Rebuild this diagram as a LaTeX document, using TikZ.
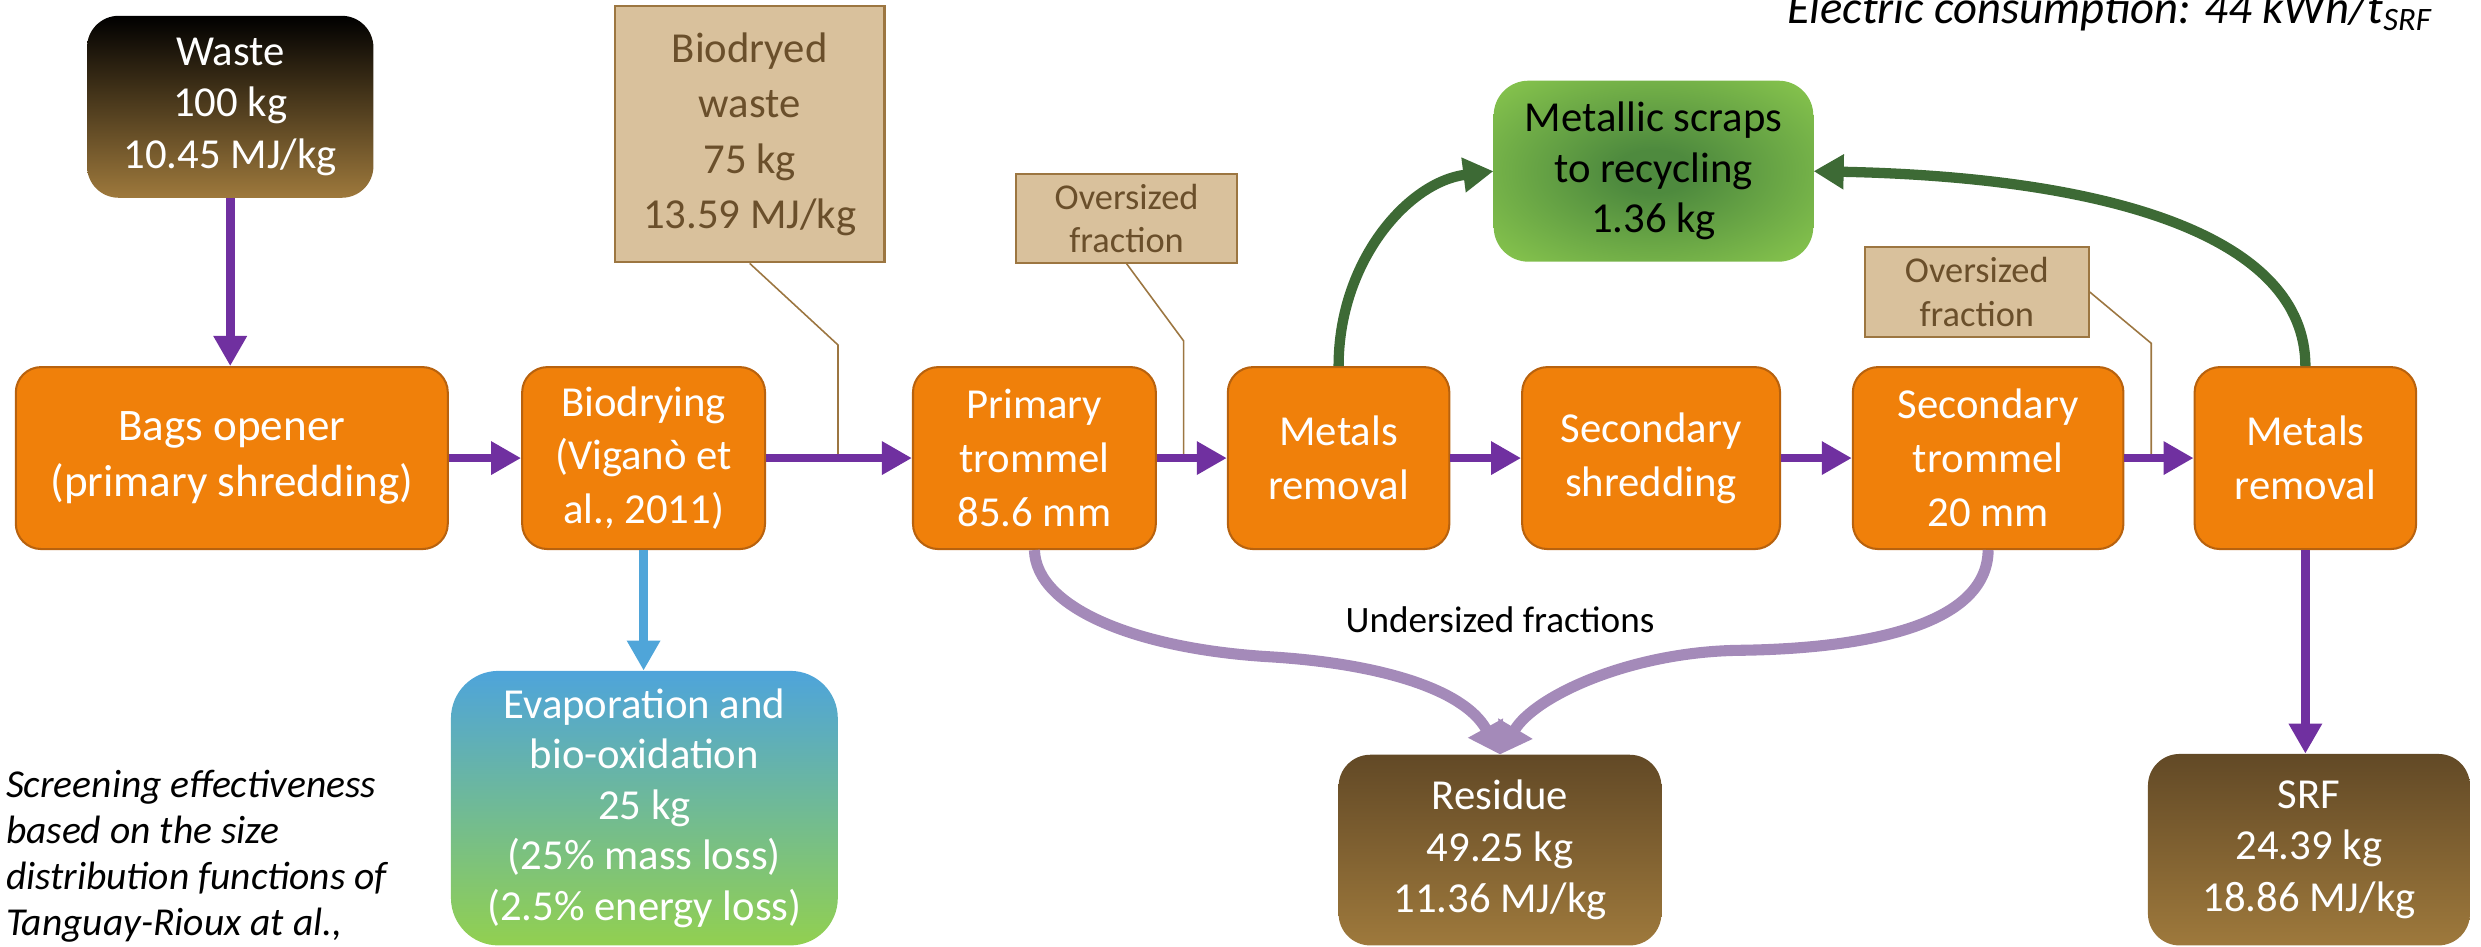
\documentclass[tikz,border=0pt]{standalone}
\usepackage{fontspec}
\setmainfont{Carlito}
\usetikzlibrary{arrows.meta}

% palette
\definecolor{procfill}{HTML}{F0800A}
\definecolor{procline}{HTML}{B8620E}
\definecolor{flowpurple}{HTML}{7030A0}
\definecolor{finelilac}{HTML}{A48AB9}
\definecolor{vapourblue}{HTML}{4FA5D9}
\definecolor{metalgreen}{HTML}{3D6A35}
\definecolor{tanfill}{HTML}{D9C19C}
\definecolor{tanline}{HTML}{9C7641}
\definecolor{tantext}{HTML}{6A4F2B}
\definecolor{browntop}{HTML}{624926}
\definecolor{brownlow}{HTML}{9E793C}
\definecolor{evaptop}{HTML}{4EA4DB}
\definecolor{evaplow}{HTML}{92D050}
\definecolor{scraplight}{HTML}{92D050}
\definecolor{scrapdark}{HTML}{4E8A3E}

% dark core fading to light green towards the edges
\pgfdeclareradialshading{scrapglow}{\pgfpoint{0bp}{0bp}}{%
  color(0bp)=(scrapdark); color(6bp)=(scrapdark);
  color(40bp)=(scraplight); color(50bp)=(scraplight)}

\begin{document}
\begin{tikzpicture}[x=1pt,y=-1pt,
  proc/.style={rectangle, rounded corners=16pt, draw=procline, line width=1.3pt,
    fill=procfill, text=white, align=center, inner sep=0pt,
    minimum height=115pt, font=\fontsize{27}{34}\selectfont},
  stock/.style={rectangle, rounded corners=20pt, text=white, align=center,
    inner sep=0pt, font=\fontsize{27}{32.5}\selectfont},
  callout/.style={rectangle, draw=tanline, line width=1.3pt, fill=tanfill,
    text=tantext, align=center, inner sep=0pt},
  leader/.style={draw=tanline, line width=1pt},
  flow/.style={line width=5.5pt, -{Triangle[length=19pt,width=20pt]}},
  mainflow/.style={flow, draw=flowpurple},
  fineflow/.style={line width=7pt, -{Triangle[length=19pt,width=24pt]}, draw=finelilac},
  vapourflow/.style={flow, draw=vapourblue},
  metalflow/.style={line width=6.5pt, -{Triangle[length=19pt,width=21pt]}, draw=metalgreen},
  smalltext/.style={font=\fontsize{23}{27.5}\selectfont}
]
\useasboundingbox (0,0) rectangle (1568,598.5);

% ---- input and outputs ----
\node[stock, top color=black, bottom color=brownlow, minimum width=181pt,
      minimum height=115pt] (waste) at (145.5,67.5) {Waste\\100 kg\\10.45 MJ/kg};

\node[stock, top color=evaptop, bottom color=evaplow, rounded corners=30pt,
      minimum width=244.5pt, minimum height=173.5pt, font=\fontsize{27}{32}\selectfont]
      (evap) at (407.25,510.75)
      {Evaporation and\\bio-oxidation\\25 kg\\(25\% mass loss)\\(2.5\% energy loss)};

\node[stock, top color=browntop, bottom color=brownlow, minimum width=204pt,
      minimum height=120.5pt] (residue) at (948,537.25) {Residue\\49.25 kg\\11.36 MJ/kg};

\node[stock, top color=browntop, bottom color=brownlow, minimum width=203.5pt,
      minimum height=121pt] (srf) at (1459.25,537) {SRF\\24.39 kg\\18.86 MJ/kg};

\node[stock, shading=scrapglow, text=black, rounded corners=22pt, minimum width=202pt,
      minimum height=114.4pt, font=\fontsize{27}{32}\selectfont]
      (scrap) at (1045,108.2) {Metallic scraps\\to recycling\\1.36 kg};

% ---- process line ----
\node[proc, minimum width=273pt, font=\fontsize{28.5}{35}\selectfont] (bags)
      at (146.5,289.5) {Bags opener\\(primary shredding)};
\node[proc, minimum width=153.5pt] (biodry) at (406.75,289.5) {Biodrying\\(Viganò et\\al., 2011)};
\node[proc, minimum width=153.5pt] (ptrom) at (653.75,289.5) {Primary\\trommel\\85.6 mm};
\node[proc, minimum width=140pt] (mrem1) at (846,289.5) {Metals\\removal};
\node[proc, minimum width=163pt] (sshred) at (1043.5,289.5) {Secondary\\shredding};
\node[proc, minimum width=171pt] (strom) at (1256.5,289.5) {Secondary\\trommel\\20 mm};
\node[proc, minimum width=140pt] (mrem2) at (1457,289.5) {Metals\\removal};

% ---- callouts ----
\node[callout, minimum width=170.4pt, minimum height=162pt,
      font=\fontsize{27}{35}\selectfont] (biocall) at (473.8,84.8)
      {Biodryed\\waste\\75 kg\\13.59 MJ/kg};
\node[callout, smalltext, minimum width=140pt, minimum height=56pt] (over1)
      at (712,138) {Oversized\\fraction};
\node[callout, smalltext, minimum width=141.3pt, minimum height=57pt] (over2)
      at (1249.35,184.5) {Oversized\\fraction};

\coordinate (bcknee) at (529.6,218);
\coordinate (bcfoot) at (529.6,287);
\coordinate (o1knee) at (748,215.4);
\coordinate (o1foot) at (748,287);
\coordinate (o2knee) at (1359.6,217);
\coordinate (o2foot) at (1359.6,287);

\draw[leader] (biocall.south) -- (bcknee) -- (bcfoot);
\draw[leader] (over1.south) -- (o1knee) -- (o1foot);
\draw[leader] (over2.east) -- (o2knee) -- (o2foot);

% ---- free texts ----
\node[anchor=base, inner sep=0pt, font=\fontsize{23.5}{28}\selectfont] (under)
      at (948,400) {Undersized fractions};
\node[anchor=west, align=left, inner sep=0pt,
      font=\itshape\fontsize{25}{29}\selectfont] (note) at (3.6,541)
      {Screening effectiveness\\based on the size\\distribution functions of\\Tanguay-Rioux at al.,};
\node[anchor=base east, inner sep=0pt, font=\itshape\fontsize{29.5}{32}\selectfont]
      (elec) at (1537,14.7) {Electric consumption: 44 kWh/t\textsubscript{SRF}};

% ---- main flow ----
\draw[mainflow] (waste.south) -- (waste.south |- bags.north);
\draw[mainflow] (bags.east) -- (biodry.west);
\draw[mainflow] (biodry.east) -- (ptrom.west);
\draw[mainflow] (ptrom.east) -- (mrem1.west);
\draw[mainflow] (mrem1.east) -- (sshred.west);
\draw[mainflow] (sshred.east) -- (strom.west);
\draw[mainflow] (strom.east) -- (mrem2.west);
\draw[mainflow] (mrem2.south) -- (mrem2.south |- srf.north);

% ---- losses and side streams ----
\draw[vapourflow] (biodry.south) -- (biodry.south |- evap.north);

\draw[metalflow] (mrem1.north) .. controls (846,165) and (890,115) .. (scrap.west);
\draw[metalflow] (mrem2.north) .. controls (1457,150) and (1335,112) .. (scrap.east);

\draw[fineflow] (ptrom.south) .. controls (655,385) and (720,410) .. (801,415)
                 .. controls (870,419) and (925,435) .. (residue.north);
\draw[fineflow] (strom.south) .. controls (1256,395) and (1180,410) .. (1099,411)
                 .. controls (1030,412) and (970,440) .. (residue.north);
\end{tikzpicture}
\end{document}
